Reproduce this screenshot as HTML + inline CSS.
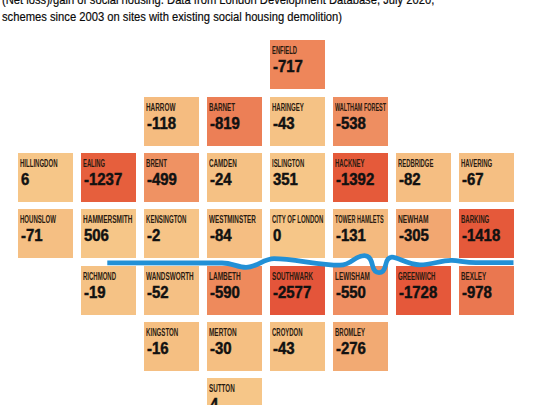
<!DOCTYPE html>
<html><head><meta charset="utf-8"><style>
html,body{margin:0;padding:0;background:#fff;width:540px;height:405px;overflow:hidden;position:relative;font-family:"Liberation Sans",sans-serif;}
.cap{position:absolute;left:2px;white-space:nowrap;font-size:13.5px;color:#0a0a0a;-webkit-text-stroke:0.2px #0a0a0a;transform:scaleX(0.83);transform-origin:0 0;}
.t{position:absolute;width:55px;height:49.3px;overflow:hidden;}
.n{position:absolute;left:2.4px;top:5.2px;font-size:11.4px;line-height:11px;color:#2a1a10;transform-origin:0 0;white-space:nowrap;font-weight:bold;}
.v{position:absolute;left:3px;top:18.2px;font-size:15.9px;line-height:18px;font-weight:bold;color:#111;white-space:nowrap;transform:scaleX(0.94);-webkit-text-stroke:0.45px #111;transform-origin:0 0;}
.river{position:absolute;left:0;top:0;}
</style></head><body>
<div class="cap" style="top:-8px">(Net loss)/gain of social housing. Data from London Development Database, July 2020,</div>
<div class="cap" style="top:9px">schemes since 2003 on sites with existing social housing demolition)</div>
<div class="t" style="left:270px;top:40px;background:#EE865A"><div class="n" style="transform:scaleX(0.5130)">ENFIELD</div><div class="v">-717</div></div><div class="t" style="left:144px;top:96.5px;background:#F5BC80"><div class="n" style="transform:scaleX(0.5598)">HARROW</div><div class="v">-118</div></div><div class="t" style="left:207px;top:96.5px;background:#EC7F56"><div class="n" style="transform:scaleX(0.5477)">BARNET</div><div class="v">-819</div></div><div class="t" style="left:270px;top:96.5px;background:#F5C285"><div class="n" style="transform:scaleX(0.5289)">HARINGEY</div><div class="v">-43</div></div><div class="t" style="left:333px;top:96.5px;background:#EE8E61"><div class="n" style="transform:scaleX(0.4778)">WALTHAM FOREST</div><div class="v">-538</div></div><div class="t" style="left:18px;top:152.7px;background:#F6C688"><div class="n" style="transform:scaleX(0.5291)">HILLINGDON</div><div class="v">6</div></div><div class="t" style="left:81px;top:152.7px;background:#E65F3D"><div class="n" style="transform:scaleX(0.5111)">EALING</div><div class="v">-1237</div></div><div class="t" style="left:144px;top:152.7px;background:#EF9263"><div class="n" style="transform:scaleX(0.5352)">BRENT</div><div class="v">-499</div></div><div class="t" style="left:207px;top:152.7px;background:#F5C184"><div class="n" style="transform:scaleX(0.5540)">CAMDEN</div><div class="v">-24</div></div><div class="t" style="left:270px;top:152.7px;background:#F6C688"><div class="n" style="transform:scaleX(0.5225)">ISLINGTON</div><div class="v">351</div></div><div class="t" style="left:333px;top:152.7px;background:#E55A3A"><div class="n" style="transform:scaleX(0.5219)">HACKNEY</div><div class="v">-1392</div></div><div class="t" style="left:396px;top:152.7px;background:#F5BE82"><div class="n" style="transform:scaleX(0.5179)">REDBRIDGE</div><div class="v">-82</div></div><div class="t" style="left:459px;top:152.7px;background:#F5BF83"><div class="n" style="transform:scaleX(0.5280)">HAVERING</div><div class="v">-67</div></div><div class="t" style="left:18px;top:209px;background:#F5BF83"><div class="n" style="transform:scaleX(0.5316)">HOUNSLOW</div><div class="v">-71</div></div><div class="t" style="left:81px;top:209px;background:#F6C688"><div class="n" style="transform:scaleX(0.5699)">HAMMERSMITH</div><div class="v">506</div></div><div class="t" style="left:144px;top:209px;background:#F6C487"><div class="n" style="transform:scaleX(0.5347)">KENSINGTON</div><div class="v">-2</div></div><div class="t" style="left:207px;top:209px;background:#F5BE82"><div class="n" style="transform:scaleX(0.5560)">WESTMINSTER</div><div class="v">-84</div></div><div class="t" style="left:270px;top:209px;background:#F6C688"><div class="n" style="transform:scaleX(0.5275)">CITY OF LONDON</div><div class="v">0</div></div><div class="t" style="left:333px;top:209px;background:#F4BA7F"><div class="n" style="transform:scaleX(0.4840)">TOWER HAMLETS</div><div class="v">-131</div></div><div class="t" style="left:396px;top:209px;background:#F2A771"><div class="n" style="transform:scaleX(0.5827)">NEWHAM</div><div class="v">-305</div></div><div class="t" style="left:459px;top:209px;background:#E5593A"><div class="n" style="transform:scaleX(0.5305)">BARKING</div><div class="v">-1418</div></div><div class="t" style="left:81px;top:265.8px;background:#F5C285"><div class="n" style="transform:scaleX(0.5267)">RICHMOND</div><div class="v">-19</div></div><div class="t" style="left:144px;top:265.8px;background:#F5C084"><div class="n" style="transform:scaleX(0.5584)">WANDSWORTH</div><div class="v">-52</div></div><div class="t" style="left:207px;top:265.8px;background:#EE8A5C"><div class="n" style="transform:scaleX(0.5710)">LAMBETH</div><div class="v">-590</div></div><div class="t" style="left:270px;top:265.8px;background:#E4553A"><div class="n" style="transform:scaleX(0.5477)">SOUTHWARK</div><div class="v">-2577</div></div><div class="t" style="left:333px;top:265.8px;background:#EF8F62"><div class="n" style="transform:scaleX(0.5628)">LEWISHAM</div><div class="v">-550</div></div><div class="t" style="left:396px;top:265.8px;background:#E5583A"><div class="n" style="transform:scaleX(0.5263)">GREENWICH</div><div class="v">-1728</div></div><div class="t" style="left:459px;top:265.8px;background:#EA7750"><div class="n" style="transform:scaleX(0.5507)">BEXLEY</div><div class="v">-978</div></div><div class="t" style="left:144px;top:321.7px;background:#F5BF82"><div class="n" style="transform:scaleX(0.5390)">KINGSTON</div><div class="v">-16</div></div><div class="t" style="left:207px;top:321.7px;background:#F5BF82"><div class="n" style="transform:scaleX(0.5635)">MERTON</div><div class="v">-30</div></div><div class="t" style="left:270px;top:321.7px;background:#F5C184"><div class="n" style="transform:scaleX(0.5255)">CROYDON</div><div class="v">-43</div></div><div class="t" style="left:333px;top:321.7px;background:#F2AA73"><div class="n" style="transform:scaleX(0.5248)">BROMLEY</div><div class="v">-276</div></div><div class="t" style="left:207px;top:378px;background:#F6C688"><div class="n" style="transform:scaleX(0.5534)">SUTTON</div><div class="v">4</div></div>
<svg class="river" width="540" height="405" viewBox="0 -0.4 540 405"><path d="M107.3,262.5 L222,262.6 C232,262.6 238,267 246,267 C256,267 264,258.3 274,258.3 C294,258.3 318,264.8 340,264.8 C352,264.8 354,255.2 364.5,255.2 C370,255.2 371.5,260 372.5,265 C373.5,269.5 376,272.2 379,272.2 C382,272.2 384.5,269.5 385.5,265 C386.5,260 388.5,256.8 392,256.8 C398,256.8 408,264.5 420,264.5 C432,264.5 442,259.5 452,260 C460,260.5 466,262.3 476,262.3 L513.5,262.3" fill="none" stroke="#2290D6" stroke-width="4.8"/></svg>
</body></html>
